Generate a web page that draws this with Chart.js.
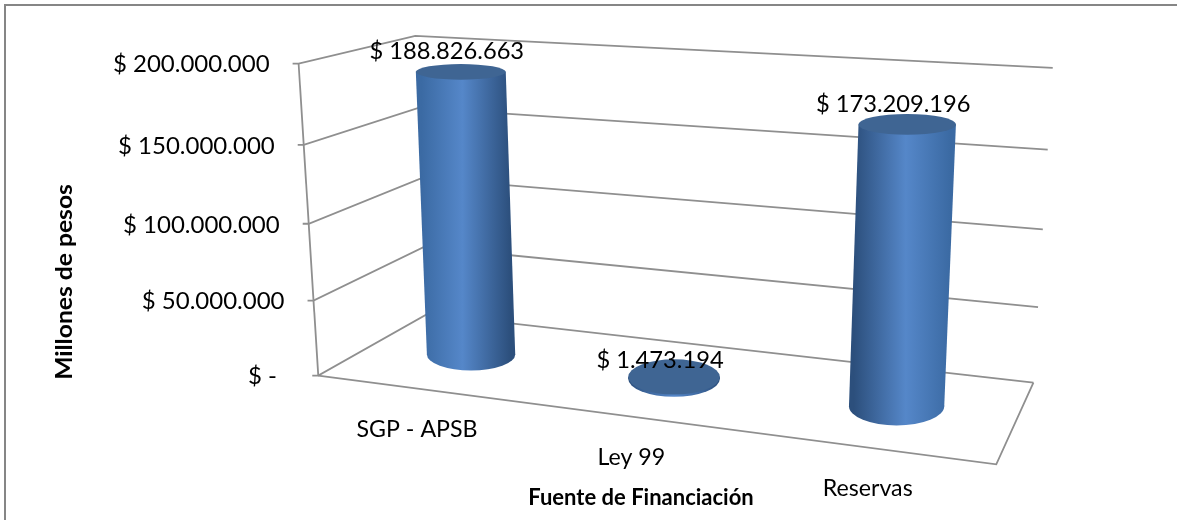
<!DOCTYPE html>
<html><head><meta charset="utf-8">
<script src="https://cdn.jsdelivr.net/npm/chart.js@4"></script>
<style>html,body{margin:0;padding:0;background:#fff}#w{width:1177px;height:520px;position:relative}</style>
</head><body><div id="w"><canvas id="c" width="1177" height="520"></canvas></div>
<script>
const categories = ['SGP - APSB', 'Ley 99', 'Reservas'];
const values = [188826663, 1473194, 173209196];
const dataLabels = ['$ 188.826.663', '$ 1.473.194', '$ 173.209.196'];
const yMax = 200000000, yStep = 50000000;
const yTitle = 'Millones de pesos', xTitle = 'Fuente de Financiación';

// 3D box calibration: [u, v, z] => [px, py]  (u across, v up, z depth)
const box = [
 [0,1,0,298,65],[0,.75,0,303,144],[0,.5,0,308,222],[0,.25,0,314,300],[0,0,0,320,377],
 [0,1,1,416,38],[0,.75,1,419,107],[0,.5,1,421,176],[0,.25,1,424,246],[0,0,1,427,316],
 [1,1,1,1053,68],[1,.75,1,1048,150],[1,.5,1,1043,229],[1,.25,1,1038,307],[1,0,1,1033,382],
 [1,0,0,996,465]];
function solve(A,b){const n=b.length;for(let i=0;i<n;i++){let p=i;for(let r=i+1;r<n;r++)if(Math.abs(A[r][i])>Math.abs(A[p][i]))p=r;
 [A[i],A[p]]=[A[p],A[i]];[b[i],b[p]]=[b[p],b[i]];for(let r=i+1;r<n;r++){const f=A[r][i]/A[i][i];for(let k=i;k<n;k++)A[r][k]-=f*A[i][k];b[r]-=f*b[i];}}
 const x=new Array(n);for(let i=n-1;i>=0;i--){let s=b[i];for(let k=i+1;k<n;k++)s-=A[i][k]*x[k];x[i]=s/A[i][i];}return x;}
const M=(function(){const n=11,A=Array.from({length:n},()=>new Array(n).fill(0)),b=new Array(n).fill(0);
 const add=(r,t)=>{for(let i=0;i<n;i++){for(let j=0;j<n;j++)A[i][j]+=r[i]*r[j];b[i]+=r[i]*t;}};
 box.forEach(([u,v,z,x,y])=>{add([u,v,z,1,0,0,0,0,-x*u,-x*v,-x*z],x);add([0,0,0,0,u,v,z,1,-y*u,-y*v,-y*z],y);});
 return solve(A,b);})();
function P(u,v,z){const w=M[8]*u+M[9]*v+M[10]*z+1;return [(M[0]*u+M[1]*v+M[2]*z+M[3])/w,(M[4]*u+M[5]*v+M[6]*z+M[7])/w];}

const fmt=v=>v===0?'$ -  ':'$ '+String(v).replace(/\B(?=(\d{3})+$)/g,'.');
const GRID='#8f8f8f', DEPTH_C=0.5, RU=0.0655, RZ=0.25;

function text(ctx,s,x,y,font,align,sx){ctx.save();ctx.font=font;ctx.fillStyle='#000';ctx.textBaseline='middle';ctx.textAlign=align||'center';
 ctx.translate(x,y);ctx.scale(sx||1,1);ctx.fillText(s,0,0);ctx.restore();}
const TF='24px Lato', LF='23.7px Lato', CF='22.5px Lato', BF='bold 22px Lato';

const scene={id:'scene',
 beforeDatasetsDraw(chart){const ctx=chart.ctx,ys=chart.scales.y,a=chart.chartArea;
  const V=val=>(a.bottom-ys.getPixelForValue(val))/(a.bottom-a.top);
  ctx.save();ctx.strokeStyle='#868686';ctx.lineWidth=2;ctx.strokeRect(5,5,1400,1400);
  ctx.lineWidth=1.8;ctx.strokeStyle=GRID;
  const L=(pts)=>{ctx.beginPath();pts.forEach((p,i)=>i?ctx.lineTo(p[0],p[1]):ctx.moveTo(p[0],p[1]));ctx.stroke();};
  L([P(0,0,0),P(1,0,0),P(1,0,1)]);
  L([P(0,0,0),P(0,1,0)]);
  ys.ticks.forEach(t=>{const v=V(t.value),f=P(0,v,0);
    L([[f[0]-6,f[1]],f,P(0,v,1),P(1,v,1)]);
    text(ctx,fmt(t.value),f[0]-29,f[1]+1,TF,'right');});
  ctx.restore();
  ctx.save();ctx.translate(65,282);ctx.rotate(-Math.PI/2);text(ctx,yTitle,0,0,BF,'center',1.12);ctx.restore();
  text(ctx,xTitle,641,498,BF);
  const xs=chart.scales.x;
  categories.forEach((c,i)=>{const u=(xs.getPixelForValue(i)-a.left)/(a.right-a.left),p=P(u,0,0);
    text(ctx,c,p[0]-1,p[1]+41,CF,'center',1.03);});
 },
 afterDatasetsDraw(chart){const ctx=chart.ctx,a=chart.chartArea,meta=chart.getDatasetMeta(0);
  meta.data.forEach((bar,i)=>{
   const uc=(bar.x-a.left)/(a.right-a.left),vt=(a.bottom-bar.y)/(a.bottom-a.top),vb=(a.bottom-bar.base)/(a.bottom-a.top);
   const ell=v=>{const c=P(uc,v,DEPTH_C),l=P(uc-RU,v,DEPTH_C),r=P(uc+RU,v,DEPTH_C),f=P(uc,v,DEPTH_C-RZ),b=P(uc,v,DEPTH_C+RZ);
     return {x:c[0],y:c[1],rx:0.45*(r[0]-l[0])/2+27,ry:(f[1]-b[1])/2};};
   const t=ell(vt),b=ell(vb);
   const g=ctx.createLinearGradient(b.x/2+t.x/2-(b.rx+t.rx)/2,(b.y+t.y)/2,b.x/2+t.x/2+(b.rx+t.rx)/2,(b.y+t.y)/2);
   const mid=0.46+0.08*(i/2),edgeL=i===0?'#3b6aa3':'#2c4f7c',edgeR=i===2?'#3b6aa3':'#2c4f7c';
   g.addColorStop(0,edgeL);g.addColorStop(mid,'#5587c9');g.addColorStop(1,edgeR);
   ctx.save();ctx.fillStyle=g;
   ctx.beginPath();ctx.ellipse(b.x,b.y,b.rx,b.ry,0,0,2*Math.PI);ctx.fill();
   ctx.beginPath();ctx.moveTo(t.x-t.rx,t.y);ctx.lineTo(t.x+t.rx,t.y);ctx.lineTo(b.x+b.rx,b.y);ctx.lineTo(b.x-b.rx,b.y);ctx.closePath();ctx.fill();
   ctx.beginPath();ctx.ellipse(t.x,t.y,t.rx,t.ry,0,0,2*Math.PI);ctx.fillStyle='#3f6593';ctx.fill();
   ctx.restore();
  });
  meta.data.forEach((bar,i)=>{
   const uc=(bar.x-a.left)/(a.right-a.left),vt=(a.bottom-bar.y)/(a.bottom-a.top);
   const p=P(uc,vt,DEPTH_C);
   text(ctx,dataLabels[i],p[0]-14,p[1]-21+(1-vt)*4,LF,'center');
  });
 }};

new Chart(document.getElementById('c'),{
 type:'bar',
 data:{labels:categories,datasets:[{data:values,backgroundColor:'rgba(0,0,0,0)',borderWidth:0}]},
 options:{responsive:false,animation:false,
  layout:{padding:0},
  plugins:{legend:{display:false},tooltip:{enabled:false},title:{display:false}},
  scales:{x:{display:false},y:{display:false,min:0,max:yMax,ticks:{stepSize:yStep}}}},
 plugins:[scene]});
</script></body></html>
